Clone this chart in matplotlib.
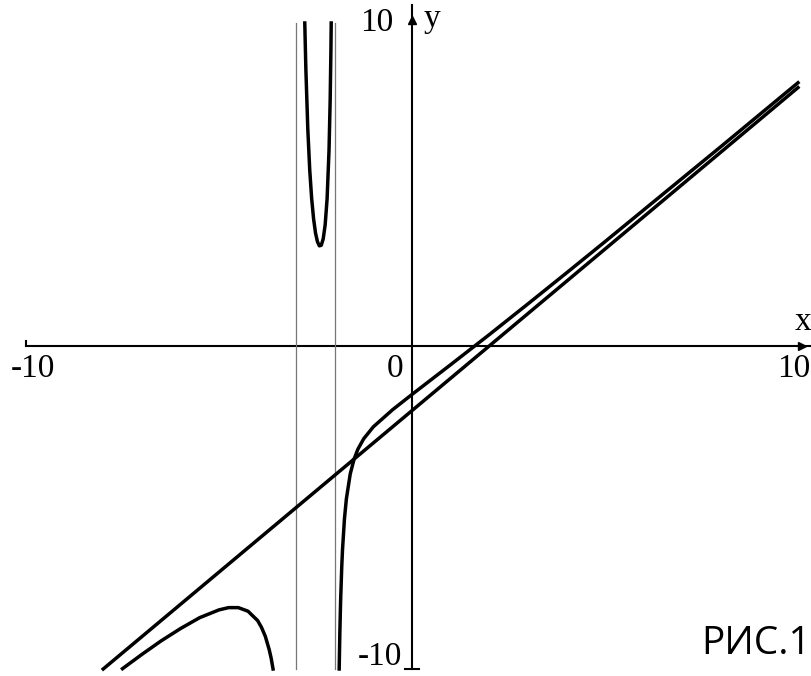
import matplotlib
matplotlib.use('Agg')
import matplotlib.pyplot as plt

# asymptotes
vert_x = [-3, -2]
slant_x = [-8, 10]
slant_y = [-10, 8]

# left branch (x < -3)
x1 = [-7.5, -7.0, -6.5, -6.0, -5.5, -5.0, -4.75, -4.5, -4.25, -4.0, -3.9, -3.8, -3.7, -3.65, -3.6]
y1 = [-9.99, -9.55, -9.13, -8.75, -8.41, -8.17, -8.10, -8.10, -8.21, -8.5, -8.71, -8.99, -9.40, -9.66, -10.0]

# middle branch (-3 < x < -2)
x2 = [-2.778, -2.75, -2.7, -2.65, -2.6, -2.55, -2.5, -2.45, -2.4, -2.35, -2.3, -2.25, -2.2, -2.15, -2.12, -2.1, -2.093]
y2 = [10.0, 8.58, 6.73, 5.46, 4.57, 3.94, 3.5, 3.23, 3.1, 3.12, 3.32, 3.75, 4.55, 6.05, 7.62, 9.23, 10.0]

# right branch (x > -2)
x3 = [-1.8865, -1.87, -1.85, -1.82, -1.8, -1.75, -1.7, -1.6, -1.5, -1.4, -1.25, -1.0, -0.5, 0, 0.5, 1, 2, 3, 4, 5, 6, 7, 8, 9, 10]
y3 = [-10.0, -8.91, -7.91, -6.83, -6.3, -5.35, -4.73, -3.96, -3.5, -3.19, -2.87, -2.5, -1.97, -1.5, -1.04, -0.58, 0.35, 1.3, 2.26, 3.23, 4.21, 5.19, 6.17, 7.16, 8.15]

fig = plt.figure(figsize=(8.12, 6.76), dpi=100)
ax = fig.add_axes([0, 0, 1, 1])
ax.set_xlim(-10.674, 10.363)
ax.set_ylim(-10.217, 10.712)
ax.axis('off')

# axes
ax.plot([-10, 10.36], [0, 0], color='black', lw=1.5)
ax.plot([0, 0], [-10, 10.55], color='black', lw=1.5)
ax.plot([-10, -10], [0, 0.15], color='black', lw=1.5)
ax.plot([-0.18, 0.18], [-10, -10], color='black', lw=1.5)
ax.plot([10.1], [0], marker='>', color='black', ms=6)
ax.plot([0], [10.1], marker='^', color='black', ms=6)

for xv in vert_x:
    ax.plot([xv, xv], [-10, 10], color='#777777', lw=0.9)

lw = 2.5
ax.plot(slant_x, slant_y, color='black', lw=lw)
ax.plot(x1, y1, color='black', lw=lw)
ax.plot(x2, y2, color='black', lw=lw)
ax.plot(x3, y3, color='black', lw=lw)

serif = dict(family='Liberation Serif', size=24, color='black')
ax.text(-9.83, -0.72, '-10', ha='center', va='center', **serif)
ax.text(-0.44, -0.70, '0', ha='center', va='center', **serif)
ax.text(9.88, -0.72, '10', ha='center', va='center', **serif)
ax.text(10.13, 0.74, 'x', ha='center', va='center', **serif)
ax.text(-0.91, 10.0, '10', ha='center', va='center', **serif)
ax.text(0.52, 10.12, 'y', ha='center', va='center', **serif)
ax.text(-0.83, -9.62, '-10', ha='center', va='center', **serif)

ax.text(8.92, -9.22, 'РИС.1', ha='center', va='center', family='Open Sans', size=28, color='black')

fig.savefig('out.png', dpi=100)
